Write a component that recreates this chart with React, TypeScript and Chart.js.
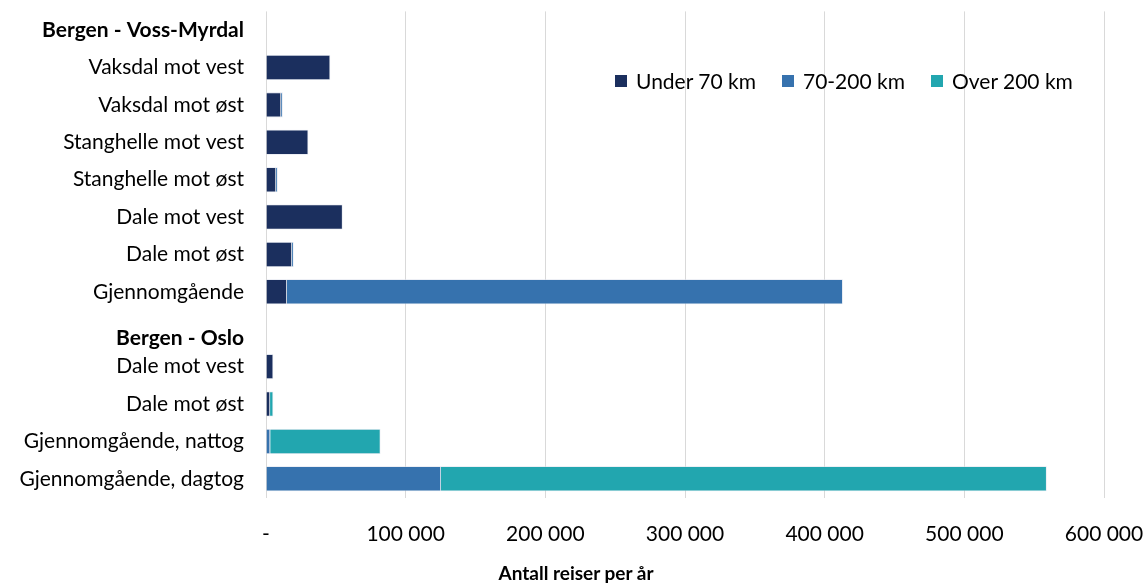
import React, { useEffect, useRef } from "react";
import { Chart, registerables } from "chart.js";

Chart.register(...registerables);

const categories: (string | string[])[] = [
  "Bergen - Voss-Myrdal",
  "Vaksdal mot vest",
  "Vaksdal mot øst",
  "Stanghelle mot vest",
  "Stanghelle mot øst",
  "Dale mot vest",
  "Dale mot øst",
  "Gjennomgående",
  ["", "Bergen - Oslo"],
  "Dale mot vest",
  "Dale mot øst",
  "Gjennomgående, nattog",
  "Gjennomgående, dagtog",
];
const headerRows = [0, 8];

const seriesNames = ["Under 70 km", "70-200 km", "Over 200 km"];
const seriesColors = ["#1b2f5e", "#3672ae", "#22a6af"];

const under70 = [null, 46000, 10800, 30300, 7200, 54900, 18600, 15000, null, 5200, 2900, null, null];
const km70to200 = [null, null, 1200, null, 1200, null, 1200, 398000, null, null, null, 3000, 125300];
const over200 = [null, null, null, null, null, null, null, null, null, null, 2300, 79000, 433700];

const xTicks = [0, 100000, 200000, 300000, 400000, 500000, 600000];
const axisTitle = "Antall reiser per år";

const FONT = "Lato, 'Open Sans', sans-serif";
const FS = 21;

function fmt(v: number): string {
  if (v === 0) return "-";
  return String(Math.round(v)).replace(/\B(?=(\d{3})+(?!\d))/g, " ");
}

export default function App() {
  const ref = useRef<HTMLCanvasElement>(null);

  useEffect(() => {
    document.body.style.margin = "0";
    const ctx = ref.current!.getContext("2d")!;
    const allData = [under70, km70to200, over200];
    const chart = new Chart(ctx, {
      type: "bar",
      data: {
        labels: categories as any,
        datasets: seriesNames.map((name, i) => ({
          label: name,
          data: allData[i] as any,
          backgroundColor: seriesColors[i],
          borderColor: "rgba(220,225,235,0.9)",
          borderWidth: 0.8,
          categoryPercentage: 0.67,
          barPercentage: 1,
        })),
      },
      options: {
        indexAxis: "y",
        animation: false,
        responsive: false,
        maintainAspectRatio: false,
        layout: { padding: { top: 11.4, right: 42, bottom: 0, left: 0 } },
        plugins: {
          legend: { display: false },
          tooltip: { enabled: false },
          title: { display: false },
        },
        scales: {
          x: {
            stacked: true,
            min: 0,
            max: 600000,
            afterBuildTicks: (scale: any) => {
              scale.ticks = xTicks.map((v) => ({ value: v }));
            },
            afterFit: (scale: any) => {
              scale.height = 87.5;
              scale.paddingLeft = 0;
              scale.paddingRight = 0;
            },
            grid: { color: "#d9d9d9", lineWidth: 1, drawTicks: false },
            border: { display: false },
            ticks: {
              padding: 24,
              color: "#000",
              font: { family: FONT, size: FS },
              callback: (v: any) => fmt(Number(v)),
            },
          },
          y: {
            stacked: true,
            afterFit: (scale: any) => {
              scale.width = 266;
              scale.paddingTop = 0;
              scale.paddingBottom = 0;
            },
            grid: { display: false, drawTicks: false },
            border: { display: false },
            ticks: {
              padding: 22,
              color: "#000",
              autoSkip: false,
              font: (c: any) =>
                headerRows.includes(c.index)
                  ? { family: FONT, size: FS, weight: "bold", lineHeight: 0.85 }
                  : { family: FONT, size: FS },
            },
          },
        },
      },
    });
    return () => chart.destroy();
  }, []);

  const legendItem = (i: number) => (
    <div key={i} style={{ display: "flex", alignItems: "center", marginRight: 26 }}>
      <span
        style={{
          display: "inline-block",
          width: 12,
          height: 12,
          background: seriesColors[i],
          marginRight: 9,
        }}
      />
      <span>{seriesNames[i]}</span>
    </div>
  );

  return (
    <div style={{ position: "relative", width: 1146, height: 585, background: "#fff", fontFamily: FONT }}>
      <canvas ref={ref} width={1146} height={585} style={{ display: "block" }} />
      <div
        style={{
          position: "absolute",
          left: 615,
          top: 68,
          display: "flex",
          fontSize: FS,
          color: "#000",
          lineHeight: "26px",
        }}
      >
        {seriesNames.map((_, i) => legendItem(i))}
      </div>
      <div
        style={{
          position: "absolute",
          left: 0,
          width: 1152,
          top: 561,
          textAlign: "center",
          fontSize: 19,
          fontWeight: "bold",
          color: "#000",
          lineHeight: "24px",
        }}
      >
        {axisTitle}
      </div>
    </div>
  );
}
